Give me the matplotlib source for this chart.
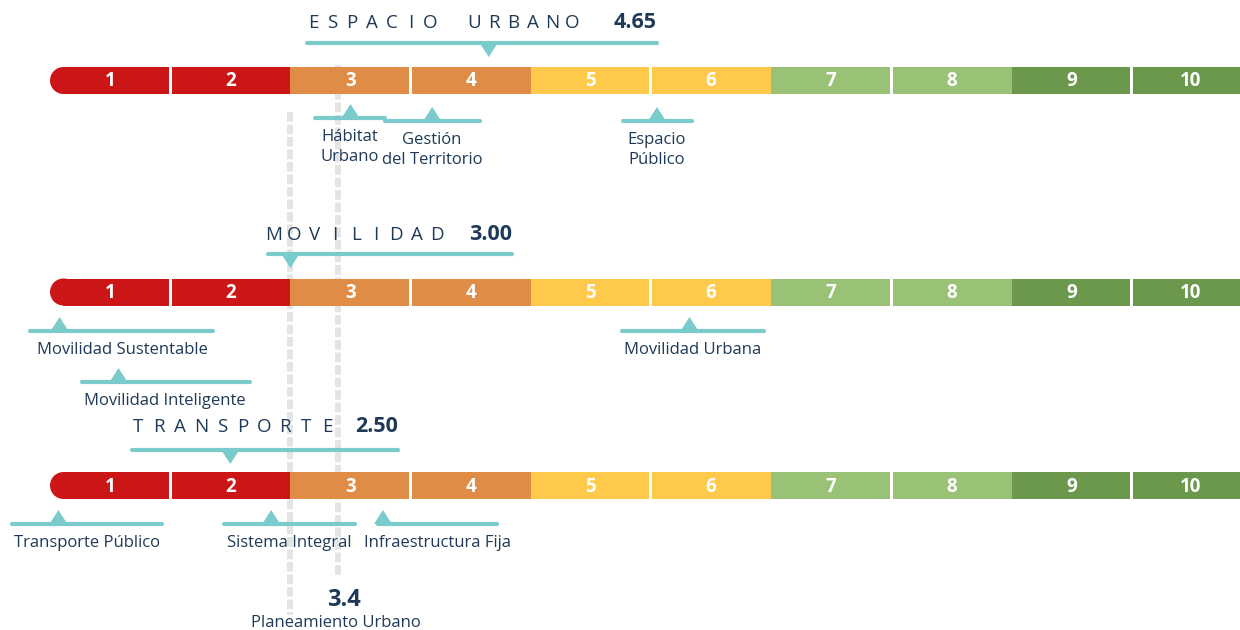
import matplotlib
matplotlib.use('Agg')
import matplotlib.pyplot as plt
from matplotlib.patches import Rectangle, Ellipse, Polygon

plt.rcParams['font.family'] = ['Open Sans', 'DejaVu Sans']
plt.rcParams['lines.scale_dashes'] = False

# ---- data ----
categories = ['ESPACIO URBANO', 'MOVILIDAD', 'TRANSPORTE']
scores = [4.65, 3.00, 2.50]
sub_labels = [
    ['Hábitat\nUrbano', 'Gestión\ndel Territorio', 'Espacio\nPúblico'],
    ['Movilidad Sustentable', 'Movilidad Inteligente', 'Movilidad Urbana'],
    ['Transporte Público', 'Sistema Integral', 'Infraestructura Fija'],
]
sub_values = [
    [3.50, 4.18, 6.05],
    [1.08, 1.57, 6.32],
    [1.07, 2.84, 3.77],
]
levels = [1, 2, 3, 4, 5, 6, 7, 8, 9, 10]
ref_value = 3.4
ref_label = 'Planeamiento Urbano'
base_value = 3.0

# ---- style / layout (pixel units) ----
SEG_COLORS = ['#cc1517', '#cc1517', '#df8d46', '#df8d46', '#ffc94b',
              '#ffc94b', '#9ac277', '#9ac277', '#6b984d', '#6b984d']
TEAL = '#7bcbcc'
NAVY = '#1e3a58'
DASH = '#e4e4e4'

W, H = 1240, 630
X0, UNIT = 50, 120.2       # pixel of level 1 start, pixels per level

BAR_Y = [80.5, 292, 485.5]
BAR_H = 27
TITLE_Y = [23, 235, 427]
TITLE_LINE_Y = [43, 254, 450]
TITLE_SPAN = [(307, 657), (268, 512), (132, 398)]
PITCH = [19.6, 20.4, 21.0]
WORD_GAP = 24

# per sub-indicator: (line left px, line right px, line y, label center px, label y)
SUB_LAYOUT = [
    [(315, 385, 118, 350, 147), (385, 480, 121, 432, 150), (623, 692, 121, 657, 150)],
    [(30, 213, 331, 122, 350), (82, 250, 382, 165, 401), (622, 764, 331, 693, 350)],
    [(12, 162, 524, 87, 543), (224, 355, 524, 289, 543), (378, 497, 524, 438, 543)],
]


def px(p):
    return 1 + (p - X0) / UNIT


def dx(p):
    return p / UNIT


fig = plt.figure(figsize=(12.4, 6.3), dpi=100)
ax = fig.add_axes([0, 0, 1, 1])
ax.set_xlim(px(0), px(W))
ax.set_ylim(H, 0)
ax.axis('off')

# reference dashed lines
ax.plot([base_value, base_value], [112, 615], color=DASH, lw=4.3,
        dashes=(7, 2), zorder=1)
ax.plot([ref_value, ref_value], [65, 577], color=DASH, lw=4.3,
        dashes=(7, 2), zorder=1)
ax.text(ref_value + dx(5), 600, f'{ref_value:.1f}', ha='center', va='center',
        fontsize=17, fontweight='bold', color=NAVY)
ax.text(ref_value - dx(3), 623, ref_label, ha='center', va='center',
        fontsize=12, color=NAVY)

for i, cat in enumerate(categories):
    yc = BAR_Y[i]
    top = yc - BAR_H / 2
    r = BAR_H / 2
    # segments
    for k, lv in enumerate(levels):
        left = lv
        width = 1
        if k == 0:
            left = px(X0 + r)
            width = lv + 1 - left
            ax.add_patch(Ellipse((left, yc), dx(BAR_H), BAR_H,
                                 color=SEG_COLORS[k], lw=0, zorder=2))
        ax.add_patch(Rectangle((left, top), width, BAR_H,
                               color=SEG_COLORS[k], lw=0, zorder=2))
        ax.text(min(lv + 0.5, px(W - 49)), yc + 1, str(lv), ha='center',
                va='center', fontsize=13.5, fontweight='bold', color='white',
                zorder=4)
    # white gaps inside each colour pair
    for lv in levels[::2]:
        ax.add_patch(Rectangle((lv + 1 - dx(1.5), top), dx(3), BAR_H,
                               color='white', lw=0, zorder=3))

    # title with spaced letters
    l, rgt = TITLE_SPAN[i]
    xc = l + 6
    for ch in cat:
        if ch == ' ':
            xc += WORD_GAP
            continue
        ax.text(px(xc), TITLE_Y[i], ch, ha='center', va='center',
                fontsize=13.5, color=NAVY)
        xc += PITCH[i]
    ax.text(px(rgt), TITLE_Y[i], f'{scores[i]:.2f}', ha='right',
            va='center', fontsize=15.5, fontweight='bold', color=NAVY)
    ly = TITLE_LINE_Y[i]
    ax.plot([px(l), px(rgt)], [ly, ly], color=TEAL, lw=3,
            solid_capstyle='round', zorder=3)
    s = scores[i]
    ax.add_patch(Polygon([(s - dx(9), ly), (s + dx(9), ly), (s, ly + 14)],
                         closed=True, color=TEAL, lw=0, zorder=3))

    # sub indicators
    for lab, v, (a, b, y, cx, ty) in zip(sub_labels[i], sub_values[i], SUB_LAYOUT[i]):
        ax.plot([px(a), px(b)], [y, y], color=TEAL, lw=3,
                solid_capstyle='round', zorder=3)
        ax.add_patch(Polygon([(v - dx(9), y), (v + dx(9), y), (v, y - 14)],
                             closed=True, color=TEAL, lw=0, zorder=3))
        ax.text(px(cx), ty, lab, ha='center', va='center', fontsize=12,
                color=NAVY, linespacing=1.4, zorder=4)

fig.savefig('out.png', dpi=100)
